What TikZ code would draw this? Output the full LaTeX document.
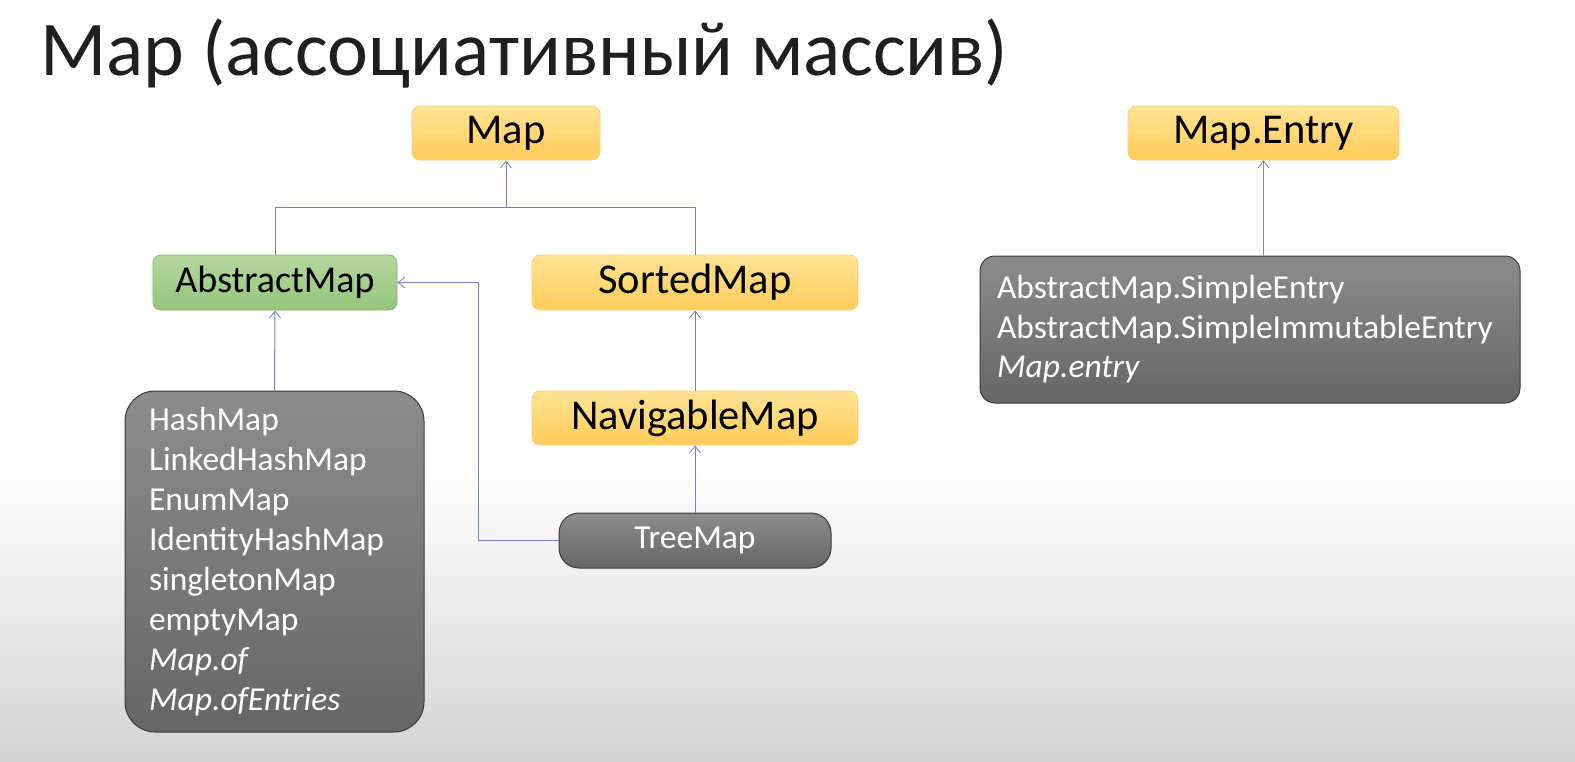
\documentclass[tikz,border=0pt]{standalone}
\usepackage{fontspec}
\setmainfont{Carlito}
\usetikzlibrary{arrows.meta,positioning}
\definecolor{linkblue}{HTML}{7480C4}
\definecolor{linkgray}{HTML}{8A8A8A}
\definecolor{ytop}{HTML}{FFE394}
\definecolor{ybot}{HTML}{FFCC5A}
\definecolor{yborder}{HTML}{F7D27E}
\definecolor{gtop}{HTML}{B4D89C}
\definecolor{gbot}{HTML}{95C47C}
\definecolor{gborder}{HTML}{86B46C}
\definecolor{dtop}{HTML}{8C8C8C}
\definecolor{dbot}{HTML}{666666}
\definecolor{dborder}{HTML}{3A3A3A}
\tikzset{
  ybox/.style={rectangle, rounded corners=8pt, draw=yborder, line width=0.8pt,
    top color=ytop, bottom color=ybot, font=\fontsize{42.5}{44}\selectfont, text=black, inner sep=0pt},
  gbox/.style={rectangle, rounded corners=8pt, draw=gborder, line width=0.8pt,
    top color=gtop, bottom color=gbot, font=\fontsize{38}{40}\selectfont, text=black, inner sep=0pt},
  dbox/.style={rectangle, draw=dborder, line width=1pt,
    top color=dtop, bottom color=dbot, text=white, inner sep=0pt},
  link/.style={draw=linkblue, line width=1pt, -{Straight Barb[length=7pt,width=11pt,line width=0.8pt]}},
  glink/.style={draw=linkgray, line width=1pt, -{Straight Barb[length=7pt,width=11pt,line width=0.8pt]}},
  plain/.style={draw=linkblue, line width=1pt},
}
\begin{document}
\begin{tikzpicture}[x=1pt,y=-1pt]
\useasboundingbox (0,0) rectangle (1575,761);
\fill[white] (0,0) rectangle (1575,470);
\shade[top color=white, bottom color=black!17] (0,469) rectangle (1575,761);

\node[anchor=base west, font=\fontsize{77.5}{80}\selectfont, text=black!88] (title) at (37,75) {Map (ассоциативный массив)};

\node[ybox, minimum width=188pt, minimum height=54pt] (map) at (506,133) {Map};
\node[ybox, minimum width=271pt, minimum height=54pt] (entry) at (1263.5,133) {Map.Entry};
\node[gbox, minimum width=244pt, minimum height=55pt] (abs) at (275,282.5) {AbstractMap};
\node[ybox, minimum width=326pt, minimum height=55pt] (sorted) at (695,282.5) {SortedMap};
\node[ybox, minimum width=326pt, minimum height=54pt] (nav) at (695,418) {NavigableMap};
\node[dbox, rounded corners=20pt, minimum width=272pt, minimum height=55pt, font=\fontsize{33.5}{36}\selectfont] (tree) at (695,540.5) {TreeMap};

\node[dbox, rounded corners=30pt, minimum width=299pt, minimum height=341pt,
  text width=251pt, align=left, inner xsep=24pt, font=\fontsize{33.5}{40}\selectfont] (impls) at (274.5,561.5)
  {HashMap\\LinkedHashMap\\EnumMap\\IdentityHashMap\\singletonMap\\emptyMap\\\textit{Map.of}\\\textit{Map.ofEntries}};

\node[dbox, rounded corners=15pt, minimum width=540pt, minimum height=147pt,
  text width=506pt, align=left, inner xsep=17pt, font=\fontsize{33.5}{39.5}\selectfont] (eimpls) at (1250,329.5)
  {AbstractMap.SimpleEntry\\AbstractMap.SimpleImmutableEntry\\\textit{Map.entry}};

\coordinate (j) at (map.south |- 0,207);
\draw[plain] (abs.north) |- (sorted.north |- j) -- (sorted.north);
\draw[link] (j) -- (map.south);
\draw[link] (impls.north) -- (abs.south);
\draw[link] (nav.north) -- (sorted.south);
\draw[link] (tree.north) -- (nav.south);
\coordinate (k) at (478,540.5);
\draw[link] (tree.west) -- (k) |- (abs.east);
\draw[glink] (eimpls.north -| entry.south) -- (entry.south);
\end{tikzpicture}
\end{document}
